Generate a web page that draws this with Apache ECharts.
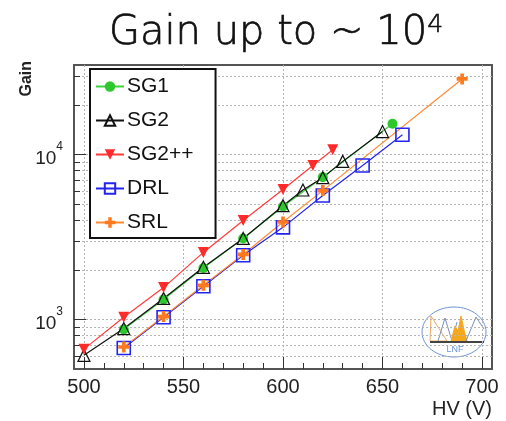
<!DOCTYPE html>
<html>
<head>
<meta charset="utf-8">
<script src="https://cdn.jsdelivr.net/npm/echarts@6/dist/echarts.min.js"></script>
<style>
  html, body { margin: 0; padding: 0; background: #ffffff; }
  #chart { width: 506px; height: 421px; }
</style>
</head>
<body>
<div id="chart"></div>
<script>
// Gain versus high voltage for several detector configurations

const hvSG1 = [520, 540, 560, 580, 600, 620, 655];
const gainSG1 = [870, 1320, 2050, 3100, 4850, 7300, 15400];

const hvSG2 = [500, 520, 540, 560, 580, 600, 610, 620, 630, 650];
const gainSG2 = [605, 880, 1340, 2070, 3100, 4900, 6100, 7250, 9100, 13800];

const hvSG2pp = [500, 520, 540, 560, 580, 600, 615, 625];
const gainSG2pp = [660, 1030, 1560, 2550, 3980, 6150, 8600, 10700];

const hvDRL = [520, 540, 560, 580, 600, 620, 640, 660];
const gainDRL = [670, 1030, 1590, 2450, 3620, 5650, 8600, 13200];

const hvSRL = [520, 540, 560, 580, 600, 620, 690];
const gainSRL = [680, 1040, 1610, 2480, 3900, 6050, 28800];

// Axis ticks
const xMajorTicks = [500, 550, 600, 650, 700];
const xMinorTicks = [500, 510, 520, 530, 540, 550, 560, 570, 580, 590, 600,
                     610, 620, 630, 640, 650, 660, 670, 680, 690, 700];
const yMajorTicks = [1000, 10000];
const yAllTicks = [600, 700, 800, 900, 1000, 2000, 3000, 4000, 5000, 6000,
                   7000, 8000, 9000, 10000, 20000, 30000];

const pairs = (xs, ys) => xs.map((x, i) => [x, ys[i]]);

const crossPath = 'path://M4,0h4v4h4v4h-4v4h-4v-4h-4v-4h4z';

const chart = echarts.init(document.getElementById('chart'), null, { renderer: 'canvas' });

const axisFont = 'Liberation Sans, Arial, sans-serif';
const titleFont = '"DejaVu Sans", sans-serif';

const option = {
  backgroundColor: '#ffffff',
  animation: false,
  title: {
    text: 'Gain up to ~ 10{sup|4}',
    left: 109,
    top: 13,
    padding: 0,
    textStyle: {
      fontFamily: titleFont,
      fontSize: 40,
      fontWeight: 200,
      color: '#111',
      textBorderColor: '#111',
      textBorderWidth: 0.7,
      lineHeight: 42,
      rich: {
        sup: {
          fontFamily: titleFont,
          fontSize: 25,
          fontWeight: 200,
          color: '#111',
          textBorderColor: '#111',
          textBorderWidth: 0.6,
          verticalAlign: 'top',
          lineHeight: 22
        }
      }
    }
  },
  grid: {
    left: 74, top: 65, right: 14, bottom: 52,
    show: true,
    backgroundColor: '#ffffff',
    borderColor: '#555',
    borderWidth: 2
  },
  legend: {
    orient: 'vertical',
    left: 90,
    top: 69,
    padding: [7, 22, 5, 5],
    itemGap: 13,
    itemWidth: 28,
    itemHeight: 13,
    backgroundColor: '#ffffff',
    borderColor: '#111',
    borderWidth: 2,
    borderRadius: 0,
    textStyle: { fontFamily: axisFont, fontSize: 21, color: '#111', padding: [0, 0, 0, -2] },
    data: ['SG1', 'SG2', 'SG2++', 'DRL', 'SRL']
  },
  xAxis: [
    {
      type: 'value', min: 495, max: 705, position: 'bottom',
      axisLine: { show: false },
      axisTick: { show: true, inside: true, length: 6, customValues: xMinorTicks,
                  lineStyle: { color: '#333', width: 1 } },
      axisLabel: { show: true, customValues: xMajorTicks, margin: 8,
                   fontFamily: axisFont, fontSize: 20, color: '#222' },
      splitLine: { show: false }
    },
    {
      type: 'value', min: 495, max: 705, position: 'bottom',
      axisLine: { show: false },
      axisTick: { show: true, inside: true, length: 12, customValues: xMajorTicks,
                  lineStyle: { color: '#333', width: 1 } },
      axisLabel: { show: false, customValues: xMajorTicks },
      splitLine: { show: true, lineStyle: { color: '#b5b5b5', type: [2, 2], width: 1 } },
      name: 'HV (V)',
      nameLocation: 'end',
      nameGap: 0,
      nameTextStyle: { fontFamily: axisFont, fontSize: 20, color: '#222',
                       align: 'right', verticalAlign: 'top', padding: [30, 0, 0, 0] }
    }
  ],
  yAxis: [
    {
      type: 'log', logBase: 10, min: 500, max: 35000, position: 'left',
      axisLine: { show: false },
      axisTick: { show: true, inside: true, length: 6, customValues: yAllTicks,
                  lineStyle: { color: '#333', width: 1 } },
      axisLabel: {
        show: true, customValues: yMajorTicks, margin: 11,
        fontFamily: axisFont, fontSize: 19, color: '#222',
        formatter: v => '{b|10}{s|' + Math.round(Math.log10(v)) + '}',
        rich: {
          b: { fontFamily: axisFont, fontSize: 19, color: '#222', padding: [8, 0, 0, 0] },
          s: { fontFamily: axisFont, fontSize: 12, color: '#222', verticalAlign: 'top' }
        }
      },
      splitLine: { show: true, lineStyle: { color: '#b5b5b5', type: [2, 2], width: 1 } }
    },
    {
      type: 'log', logBase: 10, min: 500, max: 35000, position: 'left', offset: 0,
      axisLine: { show: false },
      axisTick: { show: true, inside: true, length: 12, customValues: yMajorTicks,
                  lineStyle: { color: '#333', width: 1 } },
      axisLabel: { show: false, customValues: yMajorTicks },
      splitLine: { show: false }
    }
  ],
  graphic: [
    {
      type: 'text', x: 27, y: 61, rotation: Math.PI / 2,
      style: { text: 'Gain', font: 'bold 16px ' + axisFont, fill: '#222',
               align: 'right', verticalAlign: 'middle' }
    },
    {
      type: 'group', z: 10,
      children: [
        { type: 'ellipse', shape: { cx: 454, cy: 332, rx: 32, ry: 25 },
          style: { fill: 'rgba(0,0,0,0)', stroke: '#6d93d6', lineWidth: 1 } },
        { type: 'polygon', shape: { points: [[430, 341], [431, 316], [447, 341]] },
          style: { fill: 'rgba(0,0,0,0)', stroke: '#f0a860', lineWidth: 1 } },
        { type: 'polyline', shape: { points: [[438, 341], [445, 318], [452, 341], [457, 322]] },
          style: { stroke: '#7a8fb8', lineWidth: 1, fill: null } },
        { type: 'polygon', shape: { points: [[451, 341], [455, 326], [458, 331], [461, 316], [464, 330], [467, 341]] },
          style: { fill: '#f5a81e', stroke: '#f5a81e', lineWidth: 1 } },
        { type: 'polyline', shape: { points: [[466, 341], [476, 317], [484, 329]] },
          style: { stroke: '#7a8fb8', lineWidth: 1, fill: null } },
        { type: 'rect', shape: { x: 430, y: 341, width: 54, height: 2 },
          style: { fill: '#444' } },
        { type: 'text', x: 455, y: 350,
          style: { text: 'LNF', font: '9px ' + axisFont, fill: '#6d93d6',
                   align: 'center', verticalAlign: 'middle' } }
      ]
    }
  ],
  series: [
    {
      name: 'SG1', type: 'line', data: pairs(hvSG1, gainSG1),
      symbol: 'circle', symbolSize: 10,
      itemStyle: { color: '#2ec82e' },
      lineStyle: { color: '#3ed23e', width: 1.2 }
    },
    {
      name: 'SG2', type: 'line', data: pairs(hvSG2, gainSG2),
      symbol: 'triangle', symbolSize: 12,
      itemStyle: { color: 'rgba(0,0,0,0)', borderColor: '#111', borderWidth: 1.2 },
      lineStyle: { color: '#111', width: 1.2 }
    },
    {
      name: 'SG2++', type: 'line', data: pairs(hvSG2pp, gainSG2pp),
      symbol: 'triangle', symbolRotate: 180, symbolSize: 11,
      itemStyle: { color: '#ff2a2a' },
      lineStyle: { color: '#ff3b3b', width: 1.2 }
    },
    {
      name: 'DRL', type: 'line', data: pairs(hvDRL, gainDRL),
      symbol: 'rect', symbolSize: 13,
      itemStyle: { color: 'rgba(0,0,0,0)', borderColor: '#2424f0', borderWidth: 1.6 },
      lineStyle: { color: '#2424f0', width: 1.2 }
    },
    {
      name: 'SRL', type: 'line', data: pairs(hvSRL, gainSRL),
      symbol: crossPath, symbolSize: 11,
      itemStyle: { color: '#ff7a1e' },
      lineStyle: { color: '#ff8a33', width: 1.2 }
    }
  ]
};

chart.setOption(option);
</script>
</body>
</html>
